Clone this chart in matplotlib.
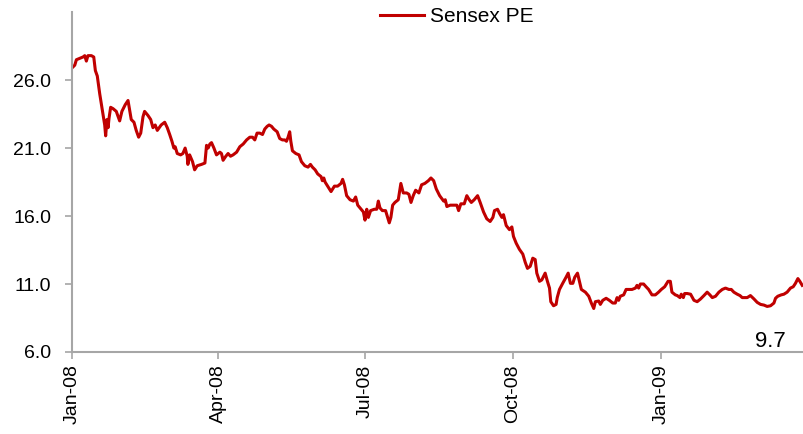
import pandas as pd
import numpy as np
import matplotlib.pyplot as plt
import matplotlib.dates as mdates

plt.rcParams['font.family'] = ['Liberation Sans', 'DejaVu Sans']

# days after 1 Jan 2008
day = [0, 1.7, 2.7, 4.8, 6.8, 7.9, 8.9, 9.9, 12.0, 13.5, 14.5, 15.7, 17.2, 18.8, 20.3, 20.9,
       21.7, 22.4, 23.0, 24.0, 25.5, 27.5, 29.6, 31.0, 33.1, 34.8, 35.8, 36.8, 38.5, 39.9,
       41.4, 42.7, 44.1, 45.1, 47.2, 48.9, 50.3, 51.7, 53.0, 55.4, 57.6, 59.2, 60.7, 62.1,
       63.3, 64.1, 65.4, 67.5, 68.9, 70.3, 71.6, 72.0, 73.1, 74.9, 76.2, 77.8, 80.5, 82.6,
       83.6, 84.6, 85.7, 86.7, 88.2, 89.8, 91.9, 92.9, 93.9, 95.6, 97.0, 98.5, 100.1, 102.3,
       104.3, 106.4, 108.5, 110.5, 112.2, 113.6, 115.0, 116.7, 118.4, 119.8, 121.3, 122.5,
       124.0, 125.4, 127.5, 129.1, 130.8, 132.2, 133.3, 134.3, 135.3, 136.0, 137.0, 139.1,
       141.1, 142.6, 144.7, 146.7, 148.2, 149.4, 151.1, 152.7, 154.8, 155.6, 156.5, 157.3,
       158.9, 161.0, 163.1, 165.1, 167.2, 168.2, 169.3, 170.7, 172.8, 174.9, 176.3, 177.6,
       179.0, 181.1, 182.1, 183.2, 184.2, 185.6, 187.9, 189.4, 190.4, 191.4, 192.9, 194.9,
       196.2, 197.2, 198.2, 199.3, 200.7, 202.8, 204.4, 205.9, 208.0, 209.4, 210.7, 212.1,
       213.6, 215.6, 217.3, 219.3, 221.5, 223.1, 224.8, 226.4, 228.5, 231.0, 232.0, 233.0,
       235.1, 237.6, 239.2, 240.3, 241.7, 243.8, 245.4, 246.9, 248.2, 250.0, 252.1, 253.7,
       255.8, 257.8, 259.9, 261.6, 262.6, 264.5, 265.7, 267.2, 268.2, 269.9, 271.9, 273.4,
       274.4, 276.1, 278.1, 280.2, 281.7, 283.1, 284.8, 286.4, 287.9, 288.9, 290.6, 292.0,
       294.1, 295.5, 296.8, 297.6, 299.3, 300.9, 301.6, 303.0, 305.0, 307.1, 308.4, 309.8,
       311.3, 312.5, 314.2, 315.4, 316.6, 319.1, 321.2, 322.8, 324.3, 325.3, 327.4, 328.4,
       329.9, 332.0, 334.0, 336.1, 337.7, 338.8, 339.8, 340.8, 342.9, 344.4, 346.0, 348.1,
       350.2, 351.2, 352.2, 353.3, 355.3, 356.8, 358.4, 360.5, 362.6, 364.6, 366.3, 368.4,
       370.5, 371.9, 372.9, 375.0, 376.2, 377.9, 378.7, 380.0, 380.8, 382.4, 384.5, 386.6,
       388.6, 390.7, 392.8, 394.8, 396.5, 398.0, 400.0, 402.1, 404.2, 406.2, 408.3, 409.8,
       411.4, 413.5, 415.2, 416.6, 419.7, 421.7, 423.9, 425.9, 428.0, 430.1, 432.1, 434.2,
       436.3, 437.3, 438.7, 440.8, 442.5, 444.5, 446.6, 448.3, 449.7, 451.2, 452.4, 453.9]

pe = [26.9, 27.1, 27.5, 27.6, 27.7, 27.8, 27.4, 27.8, 27.8, 27.7, 26.7, 26.3, 25.0, 23.8, 22.7, 21.9,
      23.1, 22.5, 23.2, 24.0, 23.9, 23.7, 23.0, 23.7, 24.2, 24.5, 23.8, 23.1, 22.9, 22.3,
      21.8, 22.1, 23.3, 23.7, 23.4, 23.1, 22.5, 22.7, 22.3, 22.7, 22.9, 22.5, 22.0, 21.5,
      21.0, 21.1, 20.6, 20.5, 20.6, 21.0, 20.4, 19.8, 20.5, 20.0, 19.4, 19.7, 19.8, 19.9,
      21.2, 21.0, 21.3, 21.4, 21.0, 20.5, 20.7, 20.6, 20.1, 20.4, 20.6, 20.4, 20.5, 20.7,
      21.1, 21.3, 21.6, 21.8, 21.8, 21.6, 22.1, 22.1, 22.0, 22.4, 22.6, 22.7,
      22.6, 22.4, 22.2, 21.7, 21.6, 21.6, 21.5, 21.8, 22.2, 21.5, 20.8, 20.6,
      20.5, 20.0, 19.7, 19.6, 19.8, 19.6, 19.4, 19.1, 18.9, 18.6, 18.8, 18.5,
      18.2, 17.8, 18.2, 18.2, 18.4, 18.7, 18.3, 17.5, 17.2, 17.1, 17.4, 16.8,
      16.6, 16.3, 15.7, 16.5, 15.9, 16.4, 16.5, 16.5, 17.1, 16.6, 16.4, 16.4,
      15.9, 15.5, 15.9, 16.8, 17.0, 17.2, 18.4, 17.7, 17.7, 17.6, 17.0, 17.5,
      17.9, 17.7, 18.3, 18.4, 18.6, 18.8, 18.6, 18.0, 17.5, 17.1, 17.2, 16.7,
      16.8, 16.8, 16.8, 16.4, 16.9, 16.9, 17.5, 17.2, 17.0, 17.2, 17.5, 17.0,
      16.3, 15.8, 15.6, 15.9, 16.4, 16.5, 16.2, 15.9, 16.1, 15.3, 15.0, 15.2,
      14.5, 14.0, 13.55, 13.2, 12.6, 12.15, 12.3, 12.9, 12.8, 11.8, 11.2, 11.3,
      11.8, 11.2, 10.7, 9.7, 9.4, 9.5, 10.0, 10.6, 11.05, 11.5, 11.8, 11.05,
      11.05, 11.5, 11.8, 11.2, 10.6, 10.4, 10.1, 9.6, 9.2, 9.7, 9.75, 9.5,
      9.8, 9.95, 9.8, 9.6, 9.6, 10.0, 9.8, 10.1, 10.2, 10.6, 10.6, 10.6,
      10.7, 10.9, 10.7, 11.0, 11.0, 10.8, 10.6, 10.2, 10.2, 10.4, 10.6, 10.8,
      11.2, 11.2, 10.4, 10.2, 10.15, 10.0, 10.25, 10.0, 10.3, 10.3, 10.25, 9.8,
      9.7, 9.9, 10.15, 10.4, 10.2, 10.0, 10.1, 10.4, 10.6, 10.7, 10.6, 10.6,
      10.4, 10.25, 10.15, 10.0, 10.0, 10.15, 9.9, 9.65, 9.5, 9.45, 9.35, 9.4,
      9.6, 9.95, 10.1, 10.2, 10.25, 10.4, 10.7, 10.8, 11.05, 11.4, 11.2, 10.9]

yticks = [6, 11, 16, 21, 26]
xticks = ['2008-01-01', '2008-04-01', '2008-07-01', '2008-10-01', '2009-01-01']
last_label = '9.7'

dates = pd.Timestamp('2008-01-01') + pd.to_timedelta(day, unit='D')

fig = plt.figure(figsize=(8.04, 4.34), dpi=100)
ax = fig.add_axes([0.0896, 0.189, 0.9104, 0.783])

ax.plot(dates, pe, color='#C00000', lw=2.2, label='Sensex PE')

ax.set_xlim(pd.Timestamp('2008-01-01'), pd.Timestamp('2009-03-31'))
ax.set_ylim(6, 31)
ax.set_yticks(yticks)
ax.set_yticklabels([f'{v:.1f}' for v in yticks])
ax.set_xticks(pd.to_datetime(xticks))
ax.xaxis.set_major_formatter(mdates.DateFormatter('%b-%y'))
plt.setp(ax.get_xticklabels(), rotation=90)

for s in ['top', 'right']:
    ax.spines[s].set_visible(False)
for s in ['left', 'bottom']:
    ax.spines[s].set_color('#A6A6A6')
    ax.spines[s].set_linewidth(1.5)
ax.tick_params(axis='both', colors='#A6A6A6', width=1.2, length=5, labelsize=14, labelcolor='black')
ax.tick_params(axis='y', pad=10)
ax.tick_params(axis='x', pad=4)

ax.text(0.9536, 0.032, last_label, transform=ax.transAxes, ha='center', va='center', fontsize=16)

fig.legend(loc='center', bbox_to_anchor=(0.568, 0.962), frameon=False, fontsize=15,
           handlelength=2.1, handletextpad=0.3)

plt.savefig('out.png', dpi=100)
